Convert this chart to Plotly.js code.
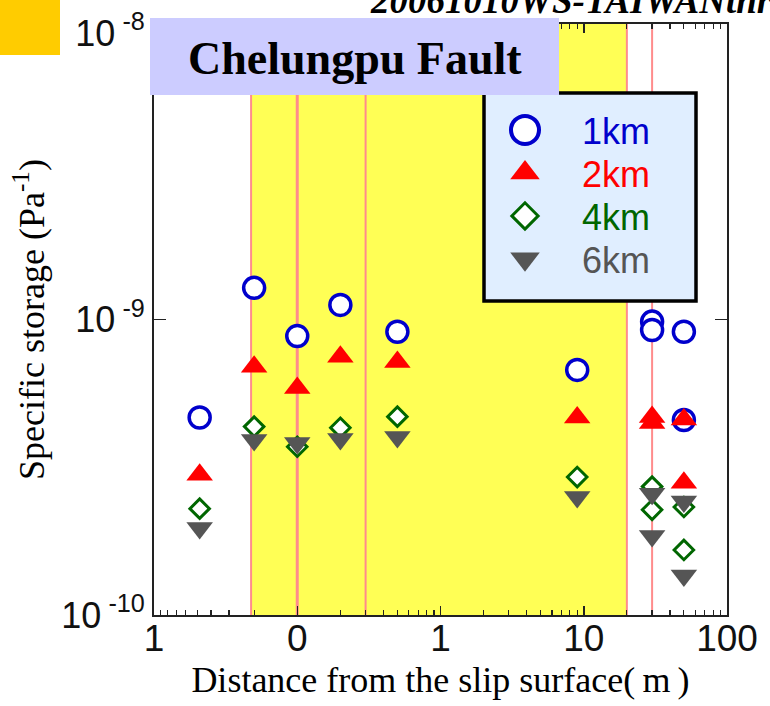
<!DOCTYPE html>
<html>
<head>
<meta charset="utf-8">
<script src="https://cdn.plot.ly/plotly-3.0.1.min.js"></script>
<style>
  html, body { margin: 0; padding: 0; background: #ffffff; }
  #chart { width: 770px; height: 706px; }
</style>
</head>
<body>
<div id="chart"></div>
<script>
// Distance from the slip surface (m); negative = hanging-wall side
const distance = [-0.48, -0.2, 0, 0.2, 0.5, 9, 30, 30, 50, 50];

// Specific storage (1/Pa) at each distance, per wavelength
const storage1km = [4.66e-10, 1.28e-9, 8.79e-10, 1.12e-9, 9.09e-10, 6.75e-10, 9.84e-10, 9.21e-10, 9.09e-10, 4.57e-10];
const storage2km = [2.98e-10, 6.92e-10, 5.86e-10, 7.48e-10, 7.18e-10, 4.66e-10, 4.68e-10, 4.46e-10, 4.59e-10, 2.80e-10];
const storage4km = [2.29e-10, 4.34e-10, 3.71e-10, 4.30e-10, 4.69e-10, 2.93e-10, 2.72e-10, 2.27e-10, 2.32e-10, 1.66e-10];
const storage6km = [1.97e-10, 3.91e-10, 3.82e-10, 3.94e-10, 4.00e-10, 2.51e-10, 2.57e-10, 1.85e-10, 2.42e-10, 1.36e-10];

const seriesNames = ['1km', '2km', '4km', '6km'];

// Fault-zone boundaries and slip surfaces (m)
const zoneLines = [-0.21, 0, 0.3, 20, 30];
const faultZone = [-0.21, 20];

// x tick positions (m) and their labels
const xTickDist = [-1, 0.1, 1, 10, 100];
const xTickText = ['1', '0', '1', '10', '100'];
const yTickVals = [1e-10, 1e-9, 1e-8];
const yTickText = ['10<sup> -10</sup>', '10<sup> -9</sup>', '10<sup> -8</sup>'];

// Symmetric log scale: each decade is one axis unit, 0.1 m sits at 0,
// the hanging-wall side mirrors to negative units.
function toAxis(d) {
  if (d === 0) return 0;
  const s = d < 0 ? -1 : 1;
  return s * (Math.log10(Math.abs(d)) + 1);
}

const xs = distance.map(toAxis);
const xTickVals = xTickDist.map(d => d === 0.1 ? 0 : toAxis(d));

// Minor log ticks inside each decade
const minorTicks = [];
[0.1, 1, 10].forEach(base => {
  for (let k = 2; k <= 9; k++) minorTicks.push(toAxis(base * k));
});
for (let k = 2; k <= 9; k++) minorTicks.push(toAxis(-0.1 * k));

const styles = [
  {symbol: 'circle', size: 21, color: '#ffffff', line: {color: '#0000cc', width: 3.5}, font: '#0000cc'},
  {symbol: 'triangle-up', size: 23, color: '#ff0000', line: {color: '#ff0000', width: 0}, font: '#ff0000'},
  {symbol: 'diamond', size: 15, color: '#ffffff', line: {color: '#006600', width: 3}, font: '#006600'},
  {symbol: 'triangle-down', size: 23, color: '#555555', line: {color: '#555555', width: 0}, font: '#555555'}
];
const values = [storage1km, storage2km, storage4km, storage6km];

const data = values.map((v, i) => ({
  type: 'scatter',
  mode: 'markers',
  name: seriesNames[i],
  x: xs,
  y: v,
  marker: {symbol: styles[i].symbol, size: styles[i].size, color: styles[i].color, line: styles[i].line},
  cliponaxis: false
}));

// pixel helpers for paper-referenced decorations
const L = 154, R = 727, T = 24, B = 615;
const px = v => (v - L) / (R - L);
const py = v => (B - v) / (B - T);

const shapes = [
  {type: 'rect', xref: 'x', yref: 'paper', x0: toAxis(faultZone[0]), x1: toAxis(faultZone[1]), y0: 0, y1: 1,
   fillcolor: '#ffff55', line: {width: 0}, layer: 'below'}
];
zoneLines.forEach(d => {
  shapes.push({type: 'line', xref: 'x', yref: 'paper', x0: toAxis(d), x1: toAxis(d), y0: 0, y1: 1,
    line: {color: '#ff8c8c', width: d === 0 ? 3 : 2}, layer: 'below'});
});
// legend panel
shapes.push({type: 'rect', xref: 'paper', yref: 'paper', x0: px(484), x1: px(696), y0: py(301), y1: py(93),
  fillcolor: '#e0eeff', line: {color: '#000000', width: 3.5}, layer: 'above'});
// header panel
shapes.push({type: 'rect', xref: 'paper', yref: 'paper', x0: px(150), x1: px(559), y0: py(95), y1: py(18),
  fillcolor: '#ccccff', line: {width: 0}, layer: 'above'});
// corner tab
shapes.push({type: 'rect', xref: 'paper', yref: 'paper', x0: px(0), x1: px(60), y0: py(55), y1: py(0),
  fillcolor: '#ffcc00', line: {width: 0}, layer: 'above'});

const layout = {
  width: 770,
  height: 706,
  margin: {l: L, r: 770 - R, t: T, b: 706 - B},
  paper_bgcolor: '#ffffff',
  plot_bgcolor: '#ffffff',
  showlegend: true,
  legend: {
    x: px(468), y: py(100), xanchor: 'left', yanchor: 'top',
    bgcolor: 'rgba(0,0,0,0)', borderwidth: 0,
    font: {family: 'Liberation Sans, Arial, sans-serif', size: 36},
    itemwidth: 104, traceorder: 'normal', tracegroupgap: 0
  },
  xaxis: {
    type: 'linear',
    range: [-1, 3],
    tickmode: 'array', tickvals: xTickVals, ticktext: xTickText,
    ticks: 'inside', ticklen: 9, tickwidth: 1.5, tickcolor: '#222222',
    minor: {tickmode: 'array', tickvals: minorTicks, ticks: 'inside', ticklen: 5, tickwidth: 1.2, tickcolor: '#222222'},
    showline: true, linecolor: '#222222', linewidth: 2, mirror: 'ticks',
    showgrid: false, zeroline: false,
    ticklabelstandoff: -10,
    tickfont: {family: 'Liberation Sans, Arial, sans-serif', size: 37, color: '#111111'},
    title: {text: 'Distance from the slip surface(\u2009m\u2009)', standoff: 8,
      font: {family: 'Liberation Serif, Times New Roman, serif', size: 36, color: '#000000'}}
  },
  yaxis: {
    type: 'log',
    range: [-10, -8],
    tickmode: 'array', tickvals: yTickVals, ticktext: yTickText,
    ticks: 'inside', ticklen: 12, tickwidth: 1.5, tickcolor: '#222222',
    showline: true, linecolor: '#222222', linewidth: 2, mirror: 'ticks',
    showgrid: false, zeroline: false,
    ticklabeloverflow: 'allow',
    tickfont: {family: 'Liberation Sans, Arial, sans-serif', size: 36, color: '#111111'},
    title: {text: 'Specific storage (Pa<sup>-1</sup>)', standoff: 6,
      font: {family: 'Liberation Serif, Times New Roman, serif', size: 36, color: '#000000'}}
  },
  shapes: shapes,
  annotations: [
    {xref: 'paper', yref: 'paper', x: px(355), y: py(59), xanchor: 'center', yanchor: 'middle',
     text: '<b>Chelungpu Fault</b>', showarrow: false,
     font: {family: 'Liberation Serif, Times New Roman, serif', size: 46, color: '#000000'}},
    {xref: 'paper', yref: 'paper', x: px(368), y: py(23), xanchor: 'left', yanchor: 'bottom',
     text: '<b><i>20061010WS-TAIWANthr</i></b>', showarrow: false,
     font: {family: 'Liberation Serif, Times New Roman, serif', size: 37, color: '#000000'}}
  ]
};

// larger symbols in the legend than the default cap allows
const legendScale = [1.75, 1.6, 1.35, 1.6];
const legendStroke = [2.3, 0, 2.2, 0];
const legendRowGap = 43;

Plotly.newPlot('chart', data, layout, {displayModeBar: false, staticPlot: true}).then(gd => {
  const items = Array.from(gd.querySelectorAll('.legend .traces'));
  let x0 = null, y0 = null;
  items.forEach((item, i) => {
    const m = /translate\(\s*([-\d.e]+)[ ,]+([-\d.e]+)\s*\)/.exec(item.getAttribute('transform') || '');
    if (m) {
      if (x0 === null) { x0 = parseFloat(m[1]); y0 = parseFloat(m[2]); }
      item.setAttribute('transform', 'translate(' + x0 + ',' + (y0 + i * legendRowGap) + ')');
    }
    item.querySelectorAll('.legendpoints path.scatterpts').forEach(p => {
      const t = p.getAttribute('transform') || '';
      p.setAttribute('transform', t + ' scale(' + legendScale[i] + ')');
      if (legendStroke[i] > 0) p.style.strokeWidth = legendStroke[i] + 'px';
    });
    item.querySelectorAll('text.legendtext').forEach(tx => {
      tx.style.fill = styles[i].font;
    });
  });
  // keep the top decade label inside the page
  gd.querySelectorAll('g.ytick').forEach(g => {
    const t = g.querySelector('text');
    if (t && t.textContent.indexOf('-8') >= 0) g.setAttribute('transform', 'translate(0,9)');
  });
});
</script>
</body>
</html>
